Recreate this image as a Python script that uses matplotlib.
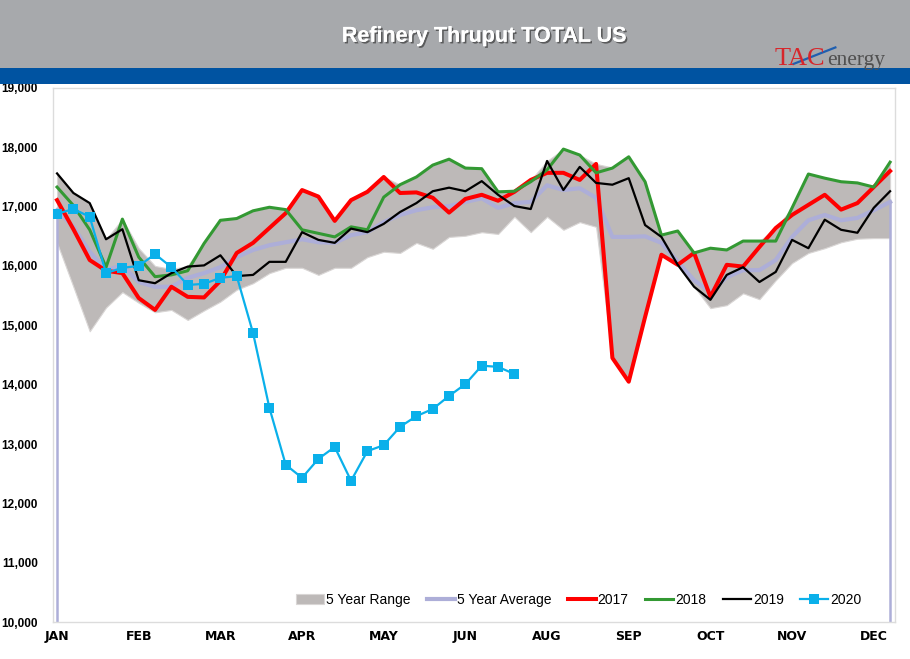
import matplotlib
matplotlib.use("Agg")
import matplotlib.pyplot as plt
import matplotlib.patches as mpatches
import matplotlib.lines as mlines
import matplotlib.patheffects as pe

# weekly values, week 1..52
month_labels = ["JAN", "FEB", "MAR", "APR", "MAY", "JUN", "AUG", "SEP", "OCT", "NOV", "DEC"]
month_weeks = [0, 5, 10, 15, 20, 25, 30, 35, 40, 45, 50]

range_low = [16390, 15650, 14900, 15300, 15560, 15380, 15220, 15260, 15090, 15250,
             15400, 15600, 15710, 15880, 15970, 15970, 15850, 15970, 15970, 16150,
             16240, 16220, 16390, 16290, 16490, 16510, 16570, 16540, 16830, 16570,
             16830, 16610, 16740, 16660, 14450, 14050, 15140, 16190, 16020, 15650,
             15290, 15340, 15540, 15440, 15760, 16050, 16220, 16300, 16400, 16460,
             16470, 16470]
range_high = [17560, 17230, 17060, 16450, 16790, 16300, 16000, 15950, 16000, 16400,
              16780, 16800, 16930, 16990, 16950, 17280, 17170, 16780, 17110, 17250,
              17500, 17370, 17500, 17700, 17800, 17650, 17640, 17250, 17270, 17450,
              17770, 17970, 17870, 17720, 17660, 17840, 17420, 16520, 16590, 16220,
              16300, 16270, 16420, 16420, 16640, 16980, 17550, 17480, 17420, 17400,
              17340, 17750]
avg_5yr = [16940, 16660, 16240, 15930, 16010, 15730, 15650, 15650, 15800, 15880,
           15980, 16150, 16270, 16350, 16400, 16450, 16400, 16390, 16520, 16570,
           16740, 16860, 16940, 16990, 17010, 17080, 17140, 16980, 17060, 17080,
           17360, 17280, 17310, 17150, 16490, 16490, 16500, 16390, 16070, 15760,
           15560, 15810, 15930, 15930, 16100, 16490, 16770, 16860, 16770, 16810,
           16940, 17080]
y2017 = [17110, 16620, 16100, 15920, 15880, 15460, 15260, 15650, 15480, 15470,
         15750, 16220, 16390, 16640, 16890, 17280, 17170, 16760, 17110, 17250,
         17500, 17230, 17240, 17150, 16900, 17130, 17200, 17100, 17250, 17450,
         17570, 17570, 17450, 17720, 14450, 14050, 15140, 16190, 16020, 16220,
         15480, 16020, 15990, 16320, 16640, 16860, 17030, 17200, 16950, 17060,
         17330, 17600]
y2018 = [17330, 17020, 16610, 15980, 16790, 16150, 15820, 15850, 15920, 16380,
         16770, 16800, 16930, 16990, 16950, 16610, 16550, 16490, 16660, 16610,
         17160, 17370, 17500, 17700, 17800, 17650, 17640, 17250, 17260, 17420,
         17620, 17970, 17870, 17570, 17650, 17840, 17420, 16520, 16590, 16220,
         16300, 16270, 16420, 16420, 16420, 16980, 17550, 17480, 17420, 17400,
         17330, 17750]
y2019 = [17560, 17230, 17060, 16450, 16620, 15760, 15710, 15880, 15990, 16010,
         16180, 15830, 15850, 16070, 16070, 16570, 16440, 16390, 16630, 16570,
         16710, 16910, 17060, 17260, 17320, 17260, 17430, 17200, 17010, 16960,
         17770, 17280, 17670, 17400, 17370, 17480, 16690, 16490, 16020, 15650,
         15430, 15850, 15980, 15730, 15900, 16440, 16300, 16780, 16610, 16560,
         16980, 17260]
y2020 = [16880, 16960, 16830, 15880, 15970, 16000, 16200, 15980, 15680, 15700,
         15800, 15830, 14870, 13610, 12650, 12430, 12750, 12950, 12380, 12880,
         12980, 13290, 13470, 13590, 13810, 14010, 14320, 14300, 14180]

weeks = list(range(len(range_low)))
weeks_2020 = list(range(len(y2020)))
y_min, y_max = 10000, 19000

fig = plt.figure(figsize=(9.1, 6.59), dpi=100)

# header bands
fig.patches.append(mpatches.Rectangle((0, 0.8968), 1, 0.1032, transform=fig.transFigure,
                                      facecolor="#a7a9ac", edgecolor="none"))
fig.patches.append(mpatches.Rectangle((0, 0.8725), 1, 0.0243, transform=fig.transFigure,
                                      facecolor="#0053a1", edgecolor="none"))
fig.text(0.532, 0.945, "Refinery Thruput TOTAL US", color="white", fontsize=15.5,
         fontweight="bold", ha="center", va="center", family="Liberation Sans",
         path_effects=[pe.withSimplePatchShadow(offset=(1.2, -1.2), shadow_rgbFace="#3a3a3a", alpha=0.7),
                       pe.Normal()])
fig.text(0.851, 0.902, "TAC", color="#d7262b", fontsize=19, family="Liberation Serif",
         ha="left", va="baseline")
fig.text(0.909, 0.902, "energy", color="#505050", fontsize=15.5, family="Liberation Serif",
         ha="left", va="baseline")
fig.lines.append(mlines.Line2D([0.872, 0.918], [0.903, 0.928], transform=fig.transFigure,
                               color="#1f5fb0", lw=1.6))

ax = fig.add_axes([0.0582, 0.0561, 0.9253, 0.8104])

ax.fill_between(weeks, range_low, range_high, facecolor="#bdb9b8", edgecolor="#d9d6d5",
                linewidth=0.8, label="5 Year Range", zorder=1)
# drop lines at both ends of the average series
ax.plot([weeks[0], weeks[0]], [y_min, avg_5yr[0]], color="#adaed8", lw=1.8, zorder=2)
ax.plot([weeks[-1], weeks[-1]], [y_min, avg_5yr[-1]], color="#adaed8", lw=1.8, zorder=2)
ax.plot(weeks, avg_5yr, color="#adaed8", lw=3, label="5 Year Average", zorder=2,
        solid_joinstyle="round")
ax.plot(weeks, y2017, color="#ff0000", lw=2.9, label="2017", zorder=3)
ax.plot(weeks, y2018, color="#339933", lw=2.2, label="2018", zorder=4)
ax.plot(weeks, y2019, color="black", lw=1.6, label="2019", zorder=5)
ax.plot(weeks_2020, y2020, color="#0ab0ea", lw=1.6, marker="s", markersize=7,
        markeredgewidth=0, label="2020", zorder=6)

ax.set_xlim(-0.25, 51.3)
ax.set_ylim(y_min, y_max)
ax.set_yticks(range(y_min, y_max + 1, 1000))
ax.set_yticklabels([f"{v:,}" for v in range(y_min, y_max + 1, 1000)],
                   fontsize=8.5, fontweight="bold", family="Liberation Sans")
ax.set_xticks(month_weeks)
ax.set_xticklabels(month_labels, fontsize=9, fontweight="bold",
                   family=["Liberation Sans Narrow", "DejaVu Sans"])
ax.tick_params(axis="both", length=0)
ax.tick_params(axis="y", pad=11)
ax.tick_params(axis="x", pad=6)
for s in ax.spines.values():
    s.set_color("#dcdcdc")
    s.set_linewidth(1)

ax.legend(loc="center right", bbox_to_anchor=(0.975, 0.041), ncol=6, frameon=False,
          handlelength=2.0, handletextpad=0.15, columnspacing=1.2,
          prop={"family": "Liberation Sans", "size": 10})

fig.savefig("out.png", dpi=100)
